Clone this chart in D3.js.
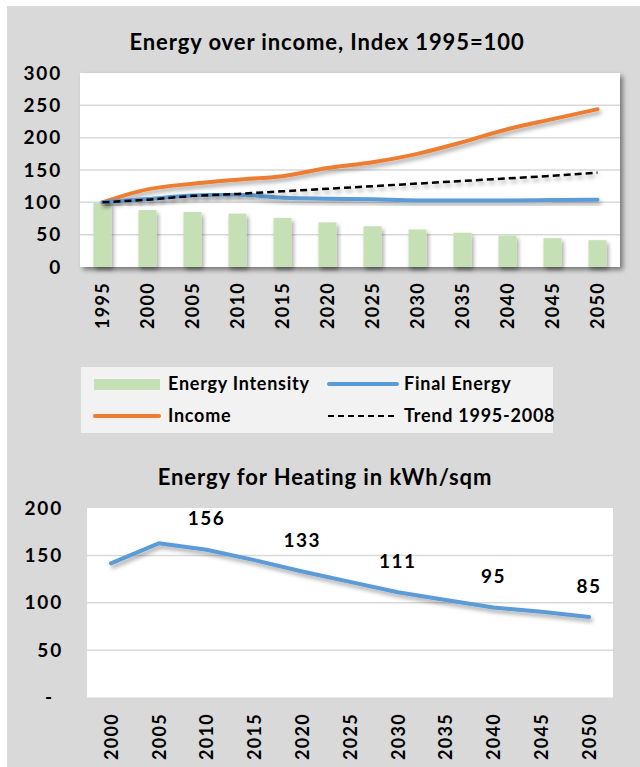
<!DOCTYPE html>
<html><head><meta charset="utf-8">
<script src="https://cdn.jsdelivr.net/npm/d3@7"></script>
<style>
html,body{margin:0;padding:0;background:#fff;}
svg{display:block;font-family:Lato,"Open Sans",sans-serif;font-weight:bold;}
</style></head>
<body>
<svg id="chart" width="640" height="767"></svg>
<script>
// ---- Data: top chart ----
const years1 = ["1995","2000","2005","2010","2015","2020","2025","2030","2035","2040","2045","2050"];
const energyIntensity = [100, 88, 85, 82.5, 76, 69, 63, 58, 53, 48.7, 44.6, 41.5];
const finalEnergy = [100, 105, 110.5, 112, 107, 105.6, 104.6, 103, 103, 103, 103.5, 104];
const income = [100, 120, 128.7, 135, 140.5, 153, 162, 175, 193, 213, 228.7, 244];
const trend = [100, 104, 110, 113, 117, 121, 125, 129, 133, 137, 141, 146];
const yTicks1 = [0, 50, 100, 150, 200, 250, 300];
const title1 = "Energy over income, Index 1995=100";
const legendLabels = ["Energy Intensity", "Final Energy", "Income", "Trend 1995-2008"];

// ---- Data: bottom chart ----
const years2 = ["2000","2005","2010","2015","2020","2025","2030","2035","2040","2045","2050"];
const heating = [141.6, 162.7, 156, 145, 133, 122, 111, 103, 95, 90.5, 85];
const heatingLabelYears = ["2010","2020","2030","2040","2050"];
const yTicks2 = [0, 50, 100, 150, 200];
const title2 = "Energy for Heating in kWh/sqm";

const C = {bg:"#d9d9d9", grid:"#d9d9d9", green:"#c5e0b4", blue:"#5b9bd5", orange:"#ed7d31", legend:"#f2f2f2"};

const svg = d3.select("#chart");
const defs = svg.append("defs");
const f = defs.append("filter").attr("id","sh").attr("x","-20%").attr("y","-20%").attr("width","150%").attr("height","160%");
f.append("feDropShadow").attr("dx",2).attr("dy",3).attr("stdDeviation",2).attr("flood-color","#000").attr("flood-opacity",0.35);
const f2 = defs.append("filter").attr("id","shp").attr("x","-5%").attr("y","-5%").attr("width","110%").attr("height","115%");
f2.append("feDropShadow").attr("dx",3).attr("dy",3).attr("stdDeviation",2.5).attr("flood-color","#000").attr("flood-opacity",0.45);

// panels
svg.append("rect").attr("x",7).attr("y",6).attr("width",633).attr("height",434).attr("fill",C.bg);
svg.append("rect").attr("x",7).attr("y",440).attr("width",633).attr("height",327).attr("fill",C.bg);

function styleTick(sel, size, ls){
  sel.attr("font-size",size).attr("font-family","Lato").attr("font-weight","bold").attr("fill","#000").attr("letter-spacing",ls);
}

// ================= TOP CHART =================
const p1 = {l:80, r:620, t:73, b:267};
const x1 = d3.scaleBand().domain(years1).range([p1.l,p1.r]).paddingInner(0.6).paddingOuter(0.3);
const y1 = d3.scaleLinear().domain([0,300]).range([p1.b,p1.t]);
const cx1 = d => x1(d) + x1.bandwidth()/2;

svg.append("text").attr("x",327).attr("y",50).attr("text-anchor","middle").attr("font-size",22).attr("letter-spacing",0.9).text(title1);

svg.append("rect").attr("x",p1.l).attr("y",p1.t).attr("width",p1.r-p1.l).attr("height",p1.b-p1.t)
  .attr("fill","#fff").attr("filter","url(#shp)");

const g1 = svg.append("g");
g1.selectAll("line.grid").data(yTicks1.filter(v=>v>0 && v<300)).join("line")
  .attr("x1",p1.l).attr("x2",p1.r).attr("y1",d=>y1(d)).attr("y2",d=>y1(d))
  .attr("stroke",C.grid).attr("stroke-width",1.5);

// y axis labels
const yAxis1 = d3.axisLeft(y1).tickValues(yTicks1).tickSize(0).tickPadding(0);
const ya1 = svg.append("g").attr("transform",`translate(62,0)`).call(yAxis1);
ya1.select(".domain").remove();
styleTick(ya1.selectAll("text"), 19, 1.8);

// bars
g1.selectAll("rect.bar").data(years1).join("rect")
  .attr("x",d=>x1(d)).attr("width",x1.bandwidth())
  .attr("y",(d,i)=>y1(energyIntensity[i])).attr("height",(d,i)=>p1.b-y1(energyIntensity[i]))
  .attr("fill",C.green).attr("filter","url(#sh)");

const line1 = d3.line().x((d,i)=>cx1(years1[i])).y(d=>y1(d)).curve(d3.curveMonotoneX);
g1.append("path").attr("d",line1(income)).attr("fill","none").attr("stroke",C.orange).attr("stroke-width",4).attr("stroke-linecap","round").attr("filter","url(#sh)");
g1.append("path").attr("d",line1(finalEnergy)).attr("fill","none").attr("stroke",C.blue).attr("stroke-width",4).attr("stroke-linecap","round").attr("filter","url(#sh)");
g1.append("path").attr("d",d3.line().x((d,i)=>cx1(years1[i])).y(d=>y1(d))(trend)).attr("fill","none").attr("stroke","#000").attr("stroke-width",2.5).attr("stroke-dasharray","7,4").attr("filter","url(#sh)");

// x labels
const xa1 = svg.append("g").attr("transform",`translate(0,${p1.b})`).call(d3.axisBottom(x1).tickSize(0).tickPadding(0));
xa1.select(".domain").remove();
styleTick(xa1.selectAll("text"), 18, 1.3);
xa1.selectAll("text").attr("text-anchor","end").attr("transform","translate(0,15) rotate(-90)").attr("x",0).attr("y",0).attr("dy","0.35em");

// legend
svg.append("rect").attr("x",81).attr("y",367).attr("width",472).attr("height",66).attr("fill",C.legend);
const lg = svg.append("g").attr("font-size",18).attr("letter-spacing",0.75);
lg.append("rect").attr("x",94).attr("y",379).attr("width",66).attr("height",11).attr("fill",C.green);
lg.append("text").attr("x",168).attr("y",390).text(legendLabels[0]);
lg.append("line").attr("x1",329).attr("x2",397).attr("y1",384).attr("y2",384).attr("stroke",C.blue).attr("stroke-width",4).attr("stroke-linecap","round");
lg.append("text").attr("x",404).attr("y",390).text(legendLabels[1]);
lg.append("line").attr("x1",95).attr("x2",159).attr("y1",416).attr("y2",416).attr("stroke",C.orange).attr("stroke-width",4).attr("stroke-linecap","round");
lg.append("text").attr("x",168).attr("y",422).text(legendLabels[2]);
lg.append("line").attr("x1",328).attr("x2",398).attr("y1",416).attr("y2",416).attr("stroke","#000").attr("stroke-width",2).attr("stroke-dasharray","6,4");
lg.append("text").attr("x",404).attr("y",422).text(legendLabels[3]);

// ================= BOTTOM CHART =================
const p2 = {l:87, r:613, t:508, b:697.5};
const x2 = d3.scalePoint().domain(years2).range([p2.l,p2.r]).padding(0.5);
const y2 = d3.scaleLinear().domain([0,200]).range([p2.b,p2.t]);

svg.append("text").attr("x",325).attr("y",485).attr("text-anchor","middle").attr("font-size",22).attr("letter-spacing",0.9).text(title2);

svg.append("rect").attr("x",p2.l).attr("y",p2.t).attr("width",p2.r-p2.l).attr("height",p2.b-p2.t).attr("fill","#fff");
const g2 = svg.append("g");
g2.selectAll("line").data(yTicks2.filter(v=>v>0 && v<200)).join("line")
  .attr("x1",p2.l).attr("x2",p2.r).attr("y1",d=>y2(d)).attr("y2",d=>y2(d))
  .attr("stroke",C.grid).attr("stroke-width",1.5);

const ya2 = svg.append("g").attr("transform",`translate(63,0)`).call(d3.axisLeft(y2).tickValues(yTicks2).tickSize(0).tickPadding(0).tickFormat(d=>d===0?"-":d));
ya2.select(".domain").remove();
styleTick(ya2.selectAll("text"), 19, 1.8);
ya2.selectAll("text").attr("x",d=>d===0?-9:0);

const line2 = d3.line().x((d,i)=>x2(years2[i])).y(d=>y2(d));
g2.append("path").attr("d",line2(heating)).attr("fill","none").attr("stroke",C.blue).attr("stroke-width",4).attr("stroke-linecap","round").attr("stroke-linejoin","round").attr("filter","url(#sh)");

g2.selectAll("text.lab").data(heatingLabelYears).join("text")
  .attr("x",d=>x2(d)).attr("y",d=>y2(heating[years2.indexOf(d)])-31).attr("dy","0.35em")
  .attr("text-anchor","middle").attr("font-size",19).attr("letter-spacing",1.5).text(d=>Math.round(heating[years2.indexOf(d)]));

const xa2 = svg.append("g").attr("transform",`translate(0,${p2.b})`).call(d3.axisBottom(x2).tickSize(0).tickPadding(0));
xa2.select(".domain").remove();
styleTick(xa2.selectAll("text"), 18, 1.3);
xa2.selectAll("text").attr("text-anchor","end").attr("transform","translate(0,15.5) rotate(-90)").attr("x",0).attr("y",0).attr("dy","0.35em");
</script>
</body></html>
